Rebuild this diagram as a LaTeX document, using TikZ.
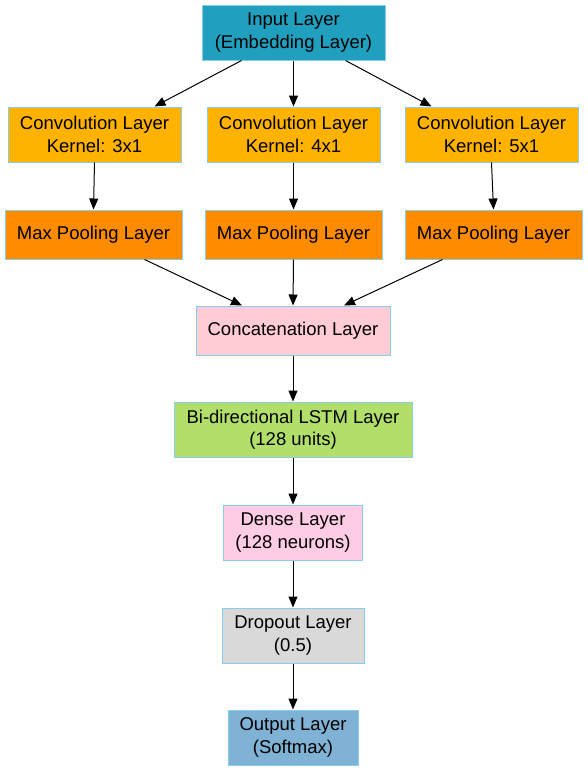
\documentclass[tikz,border=0pt]{standalone}
\usepackage{fontspec}
\setmainfont{Liberation Sans}
\usetikzlibrary{arrows.meta}
\definecolor{cin}{HTML}{219FBE}
\definecolor{cconv}{HTML}{FFB300}
\definecolor{cpool}{HTML}{FF8C00}
\definecolor{ccat}{HTML}{FFCCD5}
\definecolor{clstm}{HTML}{B2DF6A}
\definecolor{cdense}{HTML}{FFCCE6}
\definecolor{cdrop}{HTML}{D9D9D9}
\definecolor{cout}{HTML}{7FB2D4}
\definecolor{cborder}{HTML}{87CEEB}
\tikzset{
  layer/.style={draw=cborder, line width=1pt, rectangle, align=center,
    font=\fontsize{18.5}{22.5}\selectfont, inner sep=0pt},
  two/.style={minimum height=55pt},
  one/.style={minimum height=49pt},
  conn/.style={line width=1pt, -{Triangle[length=11pt,width=9pt]}}
}
\begin{document}
\begin{tikzpicture}[x=1pt,y=-1pt]
\useasboundingbox (0,0) rectangle (587,771);
\node[layer,two,fill=cin,minimum width=183pt] (in) at (293.5,32.5) {Input Layer\\(Embedding Layer)};
\node[layer,two,fill=cconv,minimum width=173pt] (c1) at (94.5,134.5) {Convolution Layer\\Kernel: 3x1};
\node[layer,two,fill=cconv,minimum width=173pt] (c2) at (293.5,134.5) {Convolution Layer\\Kernel: 4x1};
\node[layer,two,fill=cconv,minimum width=173pt] (c3) at (491.5,134.5) {Convolution Layer\\Kernel: 5x1};
\node[layer,one,fill=cpool,minimum width=177pt] (p1) at (93.5,234.5) {Max Pooling Layer};
\node[layer,one,fill=cpool,minimum width=177pt] (p2) at (293.5,234.5) {Max Pooling Layer};
\node[layer,one,fill=cpool,minimum width=177pt] (p3) at (493.5,234.5) {Max Pooling Layer};
\node[layer,one,fill=ccat,minimum width=194pt] (cat) at (293,330.5) {Concatenation Layer};
\node[layer,two,fill=clstm,minimum width=238pt] (lstm) at (293,429.5) {Bi-directional LSTM Layer\\(128 units)};
\node[layer,two,fill=cdense,minimum width=139pt] (dense) at (293,532.5) {Dense Layer\\(128 neurons)};
\node[layer,two,fill=cdrop,minimum width=142pt] (drop) at (293,635.5) {Dropout Layer\\(0.5)};
\node[layer,two,fill=cout,minimum width=130pt] (out) at (293,737.5) {Output Layer\\(Softmax)};
\draw[conn] ([xshift=-52pt]in.south) -- ([xshift=60pt]c1.north);
\draw[conn] (in.south) -- (c2.north);
\draw[conn] ([xshift=52pt]in.south) -- ([xshift=-60pt]c3.north);
\draw[conn] (c1.south) -- (p1.north);
\draw[conn] (c2.south) -- (p2.north);
\draw[conn] (c3.south) -- (p3.north);
\draw[conn] ([xshift=51pt]p1.south) -- ([xshift=-51pt]cat.north);
\draw[conn] (p2.south) -- (cat.north);
\draw[conn] ([xshift=-51pt]p3.south) -- ([xshift=51pt]cat.north);
\draw[conn] (cat.south) -- (lstm.north);
\draw[conn] (lstm.south) -- (dense.north);
\draw[conn] (dense.south) -- (drop.north);
\draw[conn] (drop.south) -- (out.north);
\end{tikzpicture}
\end{document}
